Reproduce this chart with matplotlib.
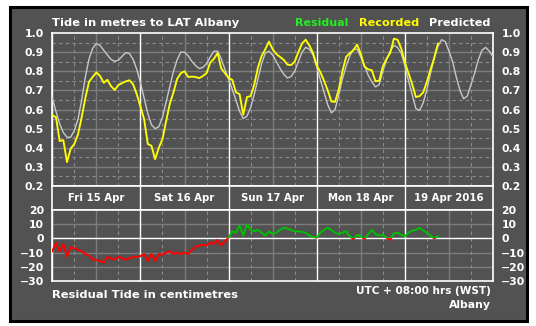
import numpy as np
import matplotlib
matplotlib.use("Agg")
import matplotlib.pyplot as plt
from matplotlib.patches import Rectangle

plt.rcParams["font.family"] = ["DejaVu Sans"]
plt.rcParams["font.weight"] = "bold"
plt.rcParams["axes.unicode_minus"] = True

# Hourly predicted tide (m above LAT) from Fri 15 Apr 00:00 to Wed 20 Apr 00:00
predicted = [
    0.66, 0.59, 0.525, 0.48, 0.455, 0.455, 0.49, 0.55, 0.65, 0.77,
    0.865, 0.92, 0.944, 0.935, 0.91, 0.885, 0.862, 0.852, 0.858, 0.878,
    0.897, 0.893, 0.862, 0.81, 0.74, 0.66, 0.58, 0.52, 0.50, 0.51,
    0.56, 0.64, 0.72, 0.80, 0.86, 0.90, 0.90, 0.88, 0.852, 0.83,
    0.814, 0.82, 0.84, 0.875, 0.905, 0.905, 0.865, 0.81, 0.76, 0.705,
    0.65, 0.59, 0.553, 0.565, 0.61, 0.68, 0.76, 0.84, 0.895, 0.905,
    0.885, 0.85, 0.815, 0.785, 0.765, 0.772, 0.80, 0.85, 0.90, 0.925,
    0.915, 0.885, 0.825, 0.755, 0.69, 0.625, 0.582, 0.60, 0.675, 0.76,
    0.825, 0.88, 0.915, 0.915, 0.875, 0.83, 0.78, 0.745, 0.718, 0.73,
    0.80, 0.86, 0.905, 0.935, 0.925, 0.895, 0.83, 0.75, 0.677, 0.605,
    0.595, 0.635, 0.705, 0.79, 0.87, 0.93, 0.965, 0.955, 0.905, 0.85,
    0.77, 0.70, 0.656, 0.67, 0.73, 0.79, 0.86, 0.91, 0.925, 0.905,
    0.875,
]

# Hourly residual (recorded - predicted), cm
residual = [
    -9, -3, -9, -4, -13, -6, -7, -8, -9, -11,
    -12, -15, -15, -16, -17, -13, -14, -15, -13, -14,
    -15, -14, -13, -13, -12.5, -11, -16, -11, -16, -11,
    -11.5, -10, -9, -11, -10, -11, -10, -11, -8, -6,
    -5, -4.5, -5, -3, -4, -1, -5, -2, 0.5, 5,
    4, 9, 2, 10, 6, 5, 6, 4, 2, 5,
    3, 4, 6, 7.5, 7, 6, 5, 5, 4.5, 4,
    2, 1, 0.5, 4, 6, 7.5, 6, 4, 3, 4,
    5, 1.5, -0.5, 2.5, 1.5, -0.5, 3, 6, 3, 2,
    2.5, 0.5, -1, 3.5, 4, 2.5, 1.5, 4, 5.5, 6,
    7.5, 5.5, 4, 2, 0, 1.5,
]

day_labels = ["Fri 15 Apr", "Sat 16 Apr", "Sun 17 Apr", "Mon 18 Apr", "19 Apr 2016"]
tide_ticks = [0.2, 0.3, 0.4, 0.5, 0.6, 0.7, 0.8, 0.9, 1.0]
resid_ticks = [-30, -20, -10, 0, 10, 20]

hours_pred = np.arange(len(predicted))
hours_obs = np.arange(len(residual))
pred = np.array(predicted)
resid = np.array(residual)
recorded = pred[: len(resid)] + resid / 100.0

W, H = 536, 326
BG = "#525252"
GRID = "#7c7c7c"
DASH = "#8c8c8c"
TICK_FS = 7.8

fig = plt.figure(figsize=(W / 100, H / 100), dpi=100, facecolor="white")

def fx(px):
    return px / W

def fy(py):
    return 1 - py / H

# panel background with black frame
fig.patches.append(Rectangle((fx(9.5), fy(320.5)), fx(517), 314 / H,
                             transform=fig.transFigure, facecolor=BG,
                             edgecolor="black", linewidth=2.2, zorder=-10))

L, R = 52.3, 493.0
ax_t = fig.add_axes([fx(L), fy(186), fx(R - L), (186 - 33) / H])
ax_b = fig.add_axes([fx(L), fy(210), fx(R - L), (210 - 186) / H])
ax_r = fig.add_axes([fx(L), fy(281), fx(R - L), (281 - 210) / H])

ndays = len(day_labels)
for ax in (ax_t, ax_b, ax_r):
    ax.set_facecolor(BG)
    ax.set_xlim(0, 24 * ndays)
    ax.set_xticks([])
    for s in ax.spines.values():
        s.set_color("white")
        s.set_linewidth(1.2)

def vgrid(ax):
    for h in range(0, 24 * ndays + 1, 6):
        if h % 24 == 0:
            ax.axvline(h, color="white", lw=1.0, zorder=1)
        elif h % 12 == 0:
            ax.axvline(h, color=GRID, lw=1.0, zorder=1)
        else:
            ax.axvline(h, color=DASH, lw=0.8, ls=(0, (3, 3)), zorder=1)

# tide panel
ax_t.set_ylim(0.2, 1.0)
for v in np.arange(0.25, 1.0, 0.1):
    ax_t.axhline(v, color=DASH, lw=0.8, ls=(0, (3, 3)), zorder=1)
for v in tide_ticks[1:-1]:
    ax_t.axhline(v, color=GRID, lw=1.0, zorder=1)
vgrid(ax_t)
ax_t.plot(hours_pred, pred, color="#c8c8c8", lw=1.0, zorder=3)
ax_t.plot(hours_obs, recorded, color="#ffff00", lw=1.35, zorder=4)
ax_t.set_yticks(tide_ticks)
ax_t.set_yticklabels([f"{v:.1f}" for v in tide_ticks])

# date band
ax_b.set_ylim(0, 1)
ax_b.set_yticks([])
for d in range(1, ndays):
    ax_b.axvline(24 * d, color="white", lw=1.0)
for i, lab in enumerate(day_labels):
    ax_b.text(24 * i + 12, 0.5, lab, color="white", fontsize=7.3,
              ha="center", va="center")

# residual panel
ax_r.set_ylim(-30, 20)
for v in (-20, -10, 10):
    ax_r.axhline(v, color=GRID, lw=1.0, zorder=1)
ax_r.axhline(0, color="white", lw=1.0, zorder=2)
vgrid(ax_r)
pos_line, = ax_r.plot(hours_obs, resid, color="#00c000", lw=1.4, zorder=4)
neg_line, = ax_r.plot(hours_obs, resid, color="#ff0000", lw=1.4, zorder=4)
pos_clip = Rectangle((0, 0), 24 * ndays, 40, transform=ax_r.transData)
neg_clip = Rectangle((0, -40), 24 * ndays, 40, transform=ax_r.transData)
pos_line.set_clip_path(pos_clip)
neg_line.set_clip_path(neg_clip)
ax_r.set_yticks(resid_ticks)
ax_r.set_yticklabels([str(v).replace("-", "\u2212") for v in resid_ticks])

for ax in (ax_t, ax_r):
    ax.tick_params(axis="y", length=0, colors="white", labelsize=TICK_FS,
                   labelleft=True, labelright=True, pad=6)
    for lab in ax.get_yticklabels():
        lab.set_fontweight("bold")

# titles and legend
fig.text(fx(52), fy(22.5), "Tide in metres to LAT Albany", color="white",
         fontsize=8.25, va="center", ha="left")
fig.text(fx(295), fy(22.5), "Residual", color="#22ee22", fontsize=8.05,
         va="center", ha="left")
fig.text(fx(359), fy(22.5), "Recorded", color="#ffff00", fontsize=8.1,
         va="center", ha="left")
fig.text(fx(491), fy(22.5), "Predicted", color="white", fontsize=8.1,
         va="center", ha="right")
fig.text(fx(52), fy(294.5), "Residual Tide in centimetres", color="white",
         fontsize=8.25, va="center", ha="left")
fig.text(fx(491), fy(291), "UTC + 08:00 hrs (WST)", color="white",
         fontsize=7.6, va="center", ha="right")
fig.text(fx(491), fy(305), "Albany", color="white",
         fontsize=7.8, va="center", ha="right")

fig.savefig("out.png", dpi=100, facecolor="white")
